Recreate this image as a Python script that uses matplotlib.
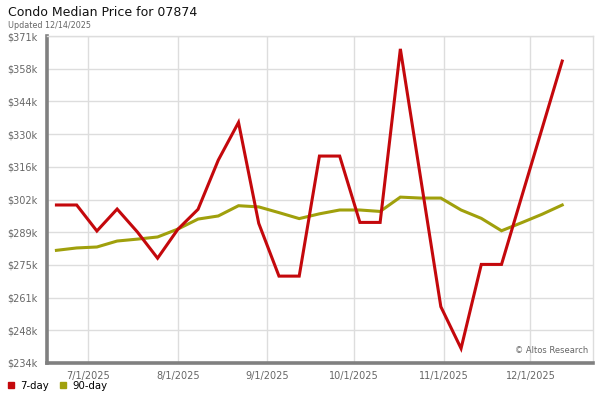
import numpy as np
import matplotlib
matplotlib.use("Agg")
import matplotlib.pyplot as plt
from matplotlib.lines import Line2D

# ---- data ----
start_date = np.datetime64("2025-06-20")
n_points = 26
dates = start_date + np.arange(n_points) * np.timedelta64(7, "D")

seven_day = [300.2, 300.2, 289.3, 298.5, 288.9, 277.9, 290.0, 298.4, 319.0, 334.8,
             292.5, 270.4, 270.4, 320.7, 320.7, 292.9, 292.9, 365.6, 311.6, 257.6,
             240.1, 275.3, 275.3, 303.8, 332.1, 360.5]
ninety_day = [281.2, 282.2, 282.6, 285.1, 285.9, 286.8, 290.1, 294.3, 295.6, 299.9,
              299.4, 297.0, 294.5, 296.5, 298.1, 298.1, 297.5, 303.5, 303.1, 303.1,
              298.1, 294.6, 289.4, 292.8, 296.3, 300.2]
seven_day = np.array(seven_day) * 1000
ninety_day = np.array(ninety_day) * 1000

y_ticks = np.linspace(234000, 371000, 11)
y_labels = ["$234k", "$248k", "$261k", "$275k", "$289k", "$302k",
            "$316k", "$330k", "$344k", "$358k", "$371k"]
x_ticks = np.array(["2025-07-01", "2025-08-01", "2025-09-01", "2025-10-01",
                    "2025-11-01", "2025-12-01"], dtype="datetime64[D]")
x_labels = ["7/1/2025", "8/1/2025", "9/1/2025", "10/1/2025", "11/1/2025", "12/1/2025"]

RED = "#c4080c"
OLIVE = "#a0a00c"
GRAY_TXT = "#666666"

fig = plt.figure(figsize=(6, 4), dpi=100)
ax = fig.add_axes([0.078, 0.0925, 0.91, 0.8175])

xd = dates.astype("datetime64[D]").astype("O")
ax.plot(xd, ninety_day, color=OLIVE, lw=2.2, solid_joinstyle="miter", zorder=3)
ax.plot(xd, seven_day, color=RED, lw=2.2, solid_joinstyle="miter", zorder=4)

ax.set_ylim(234000, 371000)
ax.set_xlim(np.datetime64("2025-06-16T16:00").astype("O"),
            np.datetime64("2025-12-22T14:00").astype("O"))
ax.set_yticks(y_ticks)
ax.set_yticklabels(y_labels)
ax.set_xticks(x_ticks.astype("O"))
ax.set_xticklabels(x_labels)

ax.grid(True, color="#dddddd", lw=1.0, zorder=0)
ax.tick_params(axis="both", length=0, labelsize=7, labelcolor=GRAY_TXT)
ax.tick_params(axis="y", pad=6.5)
ax.tick_params(axis="x", pad=6)

for s in ["top", "right"]:
    ax.spines[s].set_color("#dddddd")
    ax.spines[s].set_linewidth(1.0)
for s in ["left", "bottom"]:
    ax.spines[s].set_color("#808080")
    ax.spines[s].set_linewidth(2.6)

ax.text(0.992, 0.025, "\u00a9 Altos Research", transform=ax.transAxes,
        ha="right", va="bottom", fontsize=6, color=GRAY_TXT)

fig.text(8/600, 1 - 12/400, "Condo Median Price for 07874", fontsize=9,
         color="#111111", ha="left", va="center")
fig.text(8/600, 1 - 25/400, "Updated 12/14/2025", fontsize=5.8,
         color=GRAY_TXT, ha="left", va="center")

handles = [Line2D([], [], marker="s", ls="none", color=RED, markersize=4.5),
           Line2D([], [], marker="s", ls="none", color=OLIVE, markersize=4.5)]
fig.legend(handles, ["7-day", "90-day"], loc="center left",
           bbox_to_anchor=(0.006, 1 - 386/400), ncol=2, frameon=False,
           fontsize=7.3, handlelength=0.8, handletextpad=0.5, columnspacing=1.0,
           borderaxespad=0, borderpad=0.3)

fig.savefig("out.png", dpi=100)
